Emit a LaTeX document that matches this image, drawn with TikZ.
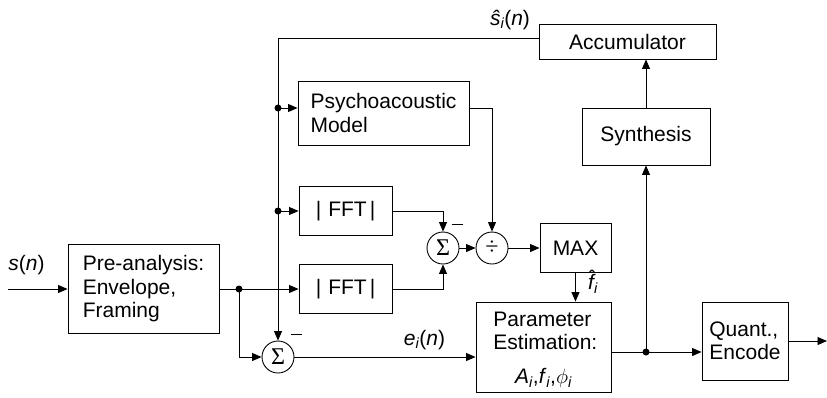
\documentclass[tikz,border=0pt]{standalone}
\usepackage{fontspec}
\setmainfont{Liberation Sans}
\newfontfamily\serifsym{Liberation Serif}
\usetikzlibrary{arrows.meta}
\newcommand\sub[1]{\textsubscript{\itshape #1}}
\newcommand\fhat{\ooalign{\itshape f\cr\hidewidth\kern2pt\raisebox{0.22em}{ˆ}\hidewidth\cr}}
\begin{document}
\begin{tikzpicture}[x=1pt,y=-1pt, font=\fontsize{21}{23.5}\selectfont, line width=0.9pt,
  box/.style={draw, inner sep=0pt, align=left},
  sumc/.style={draw, circle, minimum size=32pt, inner sep=0pt, font=\serifsym\fontsize{24}{26}\selectfont},
  arr/.style={-{Triangle[length=9.5pt,width=8pt]}},
  jdot/.style={circle, fill, inner sep=0pt, minimum size=7pt},
  lbl/.style={inner sep=0pt}]
\useasboundingbox (0,0) rectangle (827,397);
% boxes
\node[box, minimum width=151pt, minimum height=89pt] (pre) at (143.5,289) {Pre-analysis:\\Envelope,\\Framing};
\node[box, minimum width=171pt, minimum height=64pt] (psy) at (383.5,113) {Psychoacoustic\\Model};
\node[box, minimum width=93pt, minimum height=49pt] (fft1) at (345.5,211) {|\hspace{7pt}FFT\hspace{3pt}|};
\node[box, minimum width=93pt, minimum height=49pt] (fft2) at (345.5,289) {|\hspace{7pt}FFT\hspace{3pt}|};
\node[sumc] (s1) at (278,357) {Σ};
\node[sumc] (s2) at (443,248) {Σ};
\node[sumc] (dv) at (492,248) {÷};
\node[box, minimum width=71pt, minimum height=49pt] (max) at (575.5,248) {MAX};
\node[box, minimum width=135pt, minimum height=90pt] (par) at (543.5,347) {};
\node[lbl, anchor=west, align=left] (partxt) at (493,331) {Parameter\\Estimation:};
\node[lbl] (parvar) at (543.5,378) {\textit{A}\sub{i},\textit{f}\sub{i},$\phi$\sub{i}};
\node[box, minimum width=86pt, minimum height=78pt] (qe) at (745,341) {Quant.,\\Encode};
\node[box, minimum width=128pt, minimum height=57pt] (syn) at (646,136.5) {Synthesis};
\node[box, minimum width=177pt, minimum height=35pt] (acc) at (627.5,41.5) {Accumulator};
% labels
\node[lbl] (lsn) at (26.5,265) {\textit{s}(\textit{n})};
\node[lbl] (lsh) at (510,20) {\textit{ŝ}\sub{i}(\textit{n})};
\node[lbl] (len) at (424.5,340) {\textit{e}\sub{i}(\textit{n})};
\node[lbl] (lfh) at (593,284) {\fhat\sub{i}};
\node[lbl] (m1) at (296,334) {\rule{11pt}{0.9pt}};
\node[lbl] (m2) at (457,224) {\rule{11pt}{0.9pt}};
% coordinates
\coordinate (in) at (8,289);
\coordinate (d1) at (239,289);
\coordinate (topL) at (278,38);
\coordinate (dP) at (278,108);
\coordinate (dF) at (278,211);
\coordinate (d4) at (646,352);
\coordinate (out) at (827,341);
% connectors
\draw[arr] (in) -- (pre.west);
\draw (pre.east) -- (d1);
\draw[arr] (d1) -- (fft2.west);
\draw[arr] (d1) |- (s1.west);
\draw[arr] (acc.west |- topL) -- (topL) -- (s1.north);
\draw[arr] (dP) -- (psy.west |- dP);
\draw[arr] (dF) -- (fft1.west);
\draw[arr] (psy.east |- dP) -| (dv.north);
\draw[arr] (fft1.east) -| (s2.north);
\draw[arr] (fft2.east) -| (s2.south);
\draw[arr] (s2) -- (dv);
\draw[arr] (dv) -- (max);
\draw[arr] (max.south) -- (max.south |- par.north);
\draw[arr] (s1) -- (s1 -| par.west);
\draw (par.east |- d4) -- (d4);
\draw[arr] (d4) -- (d4 -| qe.west);
\draw[arr] (d4) -- (d4 |- syn.south);
\draw[arr] (syn.north) -- (syn.north |- acc.south);
\draw[arr] (qe.east) -- (out);
% dots
\node[jdot] at (d1) {};
\node[jdot] at (dP) {};
\node[jdot] at (dF) {};
\node[jdot] at (d4) {};
\end{tikzpicture}
\end{document}
